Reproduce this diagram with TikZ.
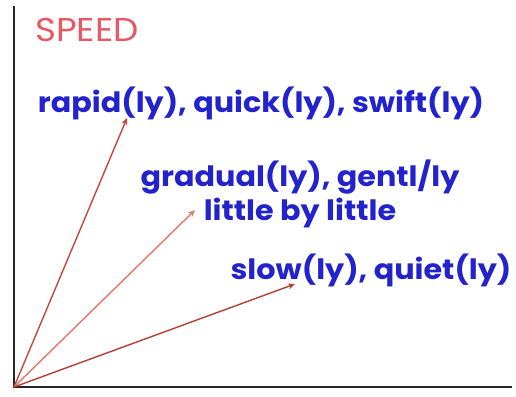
\documentclass[tikz,border=0pt]{standalone}
\usepackage{fontspec}
\setmainfont[FakeStretch=1.08]{Poppins}
\usetikzlibrary{arrows.meta}
\definecolor{speedred}{RGB}{232,88,98}
\definecolor{txtblue}{RGB}{35,35,205}
\definecolor{arrred}{RGB}{200,70,60}
\definecolor{arrlight}{RGB}{225,120,105}
\tikzset{
  lbl/.style={text=txtblue, font=\fontsize{28}{34}\selectfont\bfseries, inner sep=0pt},
  axis/.style={line width=2pt, black!85},
  vec/.style={line width=1.4pt, -{Stealth[length=7pt,width=6pt]}},
}
\begin{document}
\begin{tikzpicture}[x=1pt,y=-1pt]
\useasboundingbox[fill=white] (0,0) rectangle (516,396);
\coordinate (top) at (14,6);
\coordinate (o) at (14,387);
\coordinate (right) at (512,387);
\draw[axis] (top) -- (o) -- (right);
\node[text=speedred, font=\fontsize{33}{38}\selectfont, inner sep=0pt] (speed) at (87,30) {SPEED};
\node[lbl] (fast) at (261,103) {rapid(ly), quick(ly), swift(ly)};
\node[lbl, align=center] (grad) at (300,194) {gradual(ly), gentl/ly\\little by little};
\node[lbl] (slow) at (371,270) {slow(ly), quiet(ly)};
\coordinate (tfast) at (127,118);
\coordinate (tgrad) at (195,210);
\coordinate (tslow) at (295,284);
\draw[vec, arrred] (o) -- (tfast);
\draw[vec, arrlight] (o) -- (tgrad);
\draw[vec, arrred!90!black] (o) -- (tslow);
\end{tikzpicture}
\end{document}
